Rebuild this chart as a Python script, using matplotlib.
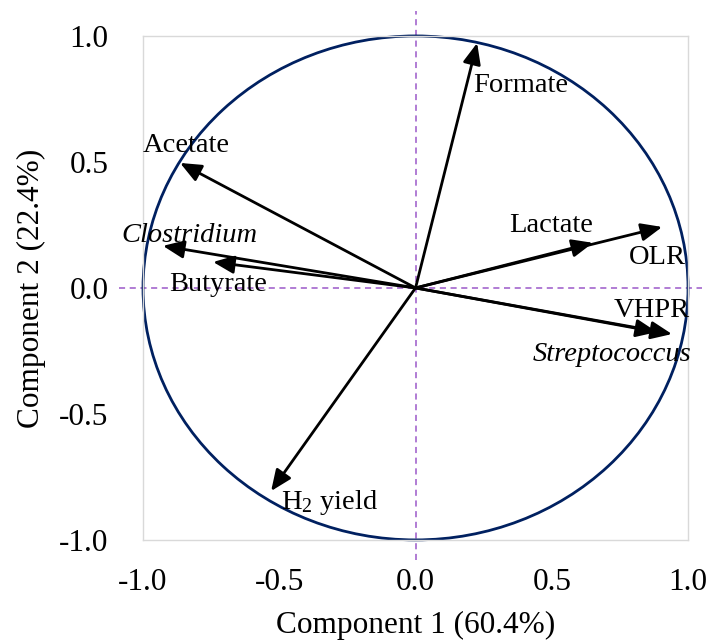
import matplotlib
matplotlib.use("Agg")
import matplotlib.pyplot as plt
from matplotlib.patches import Ellipse

plt.rcParams['font.family'] = ['Liberation Serif', 'DejaVu Serif']
plt.rcParams['mathtext.fontset'] = 'custom'
plt.rcParams['mathtext.rm'] = 'Liberation Serif'
plt.rcParams['mathtext.it'] = 'Liberation Serif:italic'

# Loadings (arrow tips)
variables = ['Formate', 'Acetate', 'Clostridium', 'Butyrate', 'Lactate',
             'OLR', 'VHPR', 'Streptococcus', 'H$_2$ yield']
pc1 = [0.226, -0.864, -0.927, -0.743, 0.651, 0.905, 0.886, 0.941, -0.530]
pc2 = [0.972, 0.496, 0.167, 0.103, 0.179, 0.242, -0.175, -0.183, -0.806]
italic = [False, False, True, False, False, False, False, True, False]
# label positions
label_x = [0.387, -0.842, -0.828, -0.725, 0.497, 0.886, 0.868, 0.721, -0.314]
label_y = [0.805, 0.567, 0.210, 0.015, 0.246, 0.122, -0.088, -0.266, -0.853]

ticks = [-1.0, -0.5, 0.0, 0.5, 1.0]
tick_labels = ['-1.0', '-0.5', '0.0', '0.5', '1.0']

fig = plt.figure(figsize=(7.13, 6.42), dpi=100)
ax = fig.add_axes([0.2006, 0.159, 0.7644, 0.785])
ax.set_xlim(-1, 1)
ax.set_ylim(-1, 1)

for s in ax.spines.values():
    s.set_color('#d9d9d9')
    s.set_linewidth(1.0)

ax.set_xticks(ticks)
ax.set_xticklabels(tick_labels)
ax.set_yticks(ticks)
ax.set_yticklabels(tick_labels)
ax.tick_params(axis='both', length=0, labelsize=22.5)
ax.tick_params(axis='x', pad=20)
ax.tick_params(axis='y', pad=25)

ax.set_xlabel('Component 1 (60.4%)', fontsize=22.5, labelpad=10)
ax.set_ylabel('Component 2 (22.4%)', fontsize=22.5, labelpad=9)

dash_col = '#9B59C9'
ax.plot([-1.09, 1.05], [0, 0], ls=(0, (4, 3)), color=dash_col, lw=1.1, clip_on=False, zorder=1)
ax.plot([0, 0], [-1.08, 1.1], ls=(0, (4, 3)), color=dash_col, lw=1.1, clip_on=False, zorder=1)

circle = Ellipse((0, 0), 2, 2, fill=False, edgecolor='#002060', lw=2.0, zorder=2, clip_on=False)
ax.add_patch(circle)

for x, y in zip(pc1, pc2):
    ax.annotate('', xy=(x, y), xytext=(0, 0),
                arrowprops=dict(arrowstyle='-|>,head_length=0.75,head_width=0.32',
                                color='black', lw=2.0, shrinkA=0, shrinkB=0,
                                mutation_scale=17),
                zorder=3)

for name, lx, ly, it in zip(variables, label_x, label_y, italic):
    ax.text(lx, ly, name, fontsize=20.5, ha='center', va='center',
            style='italic' if it else 'normal', zorder=4)

fig.savefig('out.png', dpi=100)
